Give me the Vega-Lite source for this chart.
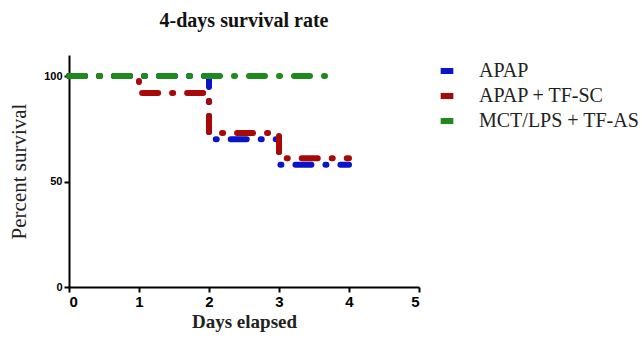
{
  "$schema": "https://vega.github.io/schema/vega-lite/v6.json",
  "width": 350,
  "height": 232,
  "autosize": "none",
  "padding": {"left": 69, "top": 55, "right": 223, "bottom": 54},
  "background": "white",
  "view": {"stroke": null},
  "title": {"text": "4-days survival rate", "font": "Liberation Serif", "fontSize": 20, "fontWeight": "bold", "color": "#111", "offset": 24},
  "data": {"values": [
    {"group": "APAP", "day": 0, "pct": 100},
    {"group": "APAP", "day": 2, "pct": 70},
    {"group": "APAP", "day": 3, "pct": 58},
    {"group": "APAP", "day": 4, "pct": 58},
    {"group": "APAP + TF-SC", "day": 0, "pct": 100},
    {"group": "APAP + TF-SC", "day": 1, "pct": 92},
    {"group": "APAP + TF-SC", "day": 2, "pct": 73},
    {"group": "APAP + TF-SC", "day": 3, "pct": 61},
    {"group": "APAP + TF-SC", "day": 4, "pct": 61},
    {"group": "MCT/LPS + TF-AS", "day": 0, "pct": 100},
    {"group": "MCT/LPS + TF-AS", "day": 3.7, "pct": 100}
  ]},
  "mark": {"type": "line", "interpolate": "step-after", "strokeWidth": 6, "strokeCap": "round", "strokeDash": [16, 14, 1, 14]},
  "encoding": {
    "x": {"field": "day", "type": "quantitative", "scale": {"domain": [0, 5], "nice": false, "zero": true},
      "axis": {"values": [0, 1, 2, 3, 4, 5], "title": "Days elapsed", "grid": false, "domainColor": "#000", "domainWidth": 2, "tickColor": "#000", "tickWidth": 2, "tickSize": 5,
        "labelFont": "Liberation Sans", "labelFontWeight": "bold", "labelFontSize": 15, "labelColor": "#000",
        "titleFont": "Liberation Serif", "titleFontSize": 19, "titleFontWeight": "bold", "titleColor": "#222", "titlePadding": 3}},
    "y": {"field": "pct", "type": "quantitative", "scale": {"domain": [0, 110], "nice": false},
      "axis": {"values": [0, 50, 100], "title": "Percent survival", "grid": false, "domainColor": "#000", "domainWidth": 2, "tickColor": "#000", "tickWidth": 2, "tickSize": 5,
        "labelFont": "Liberation Sans", "labelFontWeight": "bold", "labelFontSize": 11, "labelColor": "#000",
        "titleFont": "Liberation Serif", "titleFontSize": 21, "titleFontWeight": "normal", "titleColor": "#222", "titlePadding": 14}},
    "color": {"field": "group", "type": "nominal",
      "scale": {"domain": ["APAP", "APAP + TF-SC", "MCT/LPS + TF-AS"], "range": ["#0a14c8", "#a80808", "#1e8a1e"]},
      "legend": {"title": null, "orient": "none", "legendX": 368, "legendY": 6, "symbolType": "stroke", "symbolStrokeWidth": 6, "symbolSize": 160, "symbolDash": [1, 0],
        "labelFont": "Liberation Serif", "labelFontSize": 20, "labelColor": "#222", "labelLimit": 400, "rowPadding": 1, "labelOffset": 22}}
  }
}
